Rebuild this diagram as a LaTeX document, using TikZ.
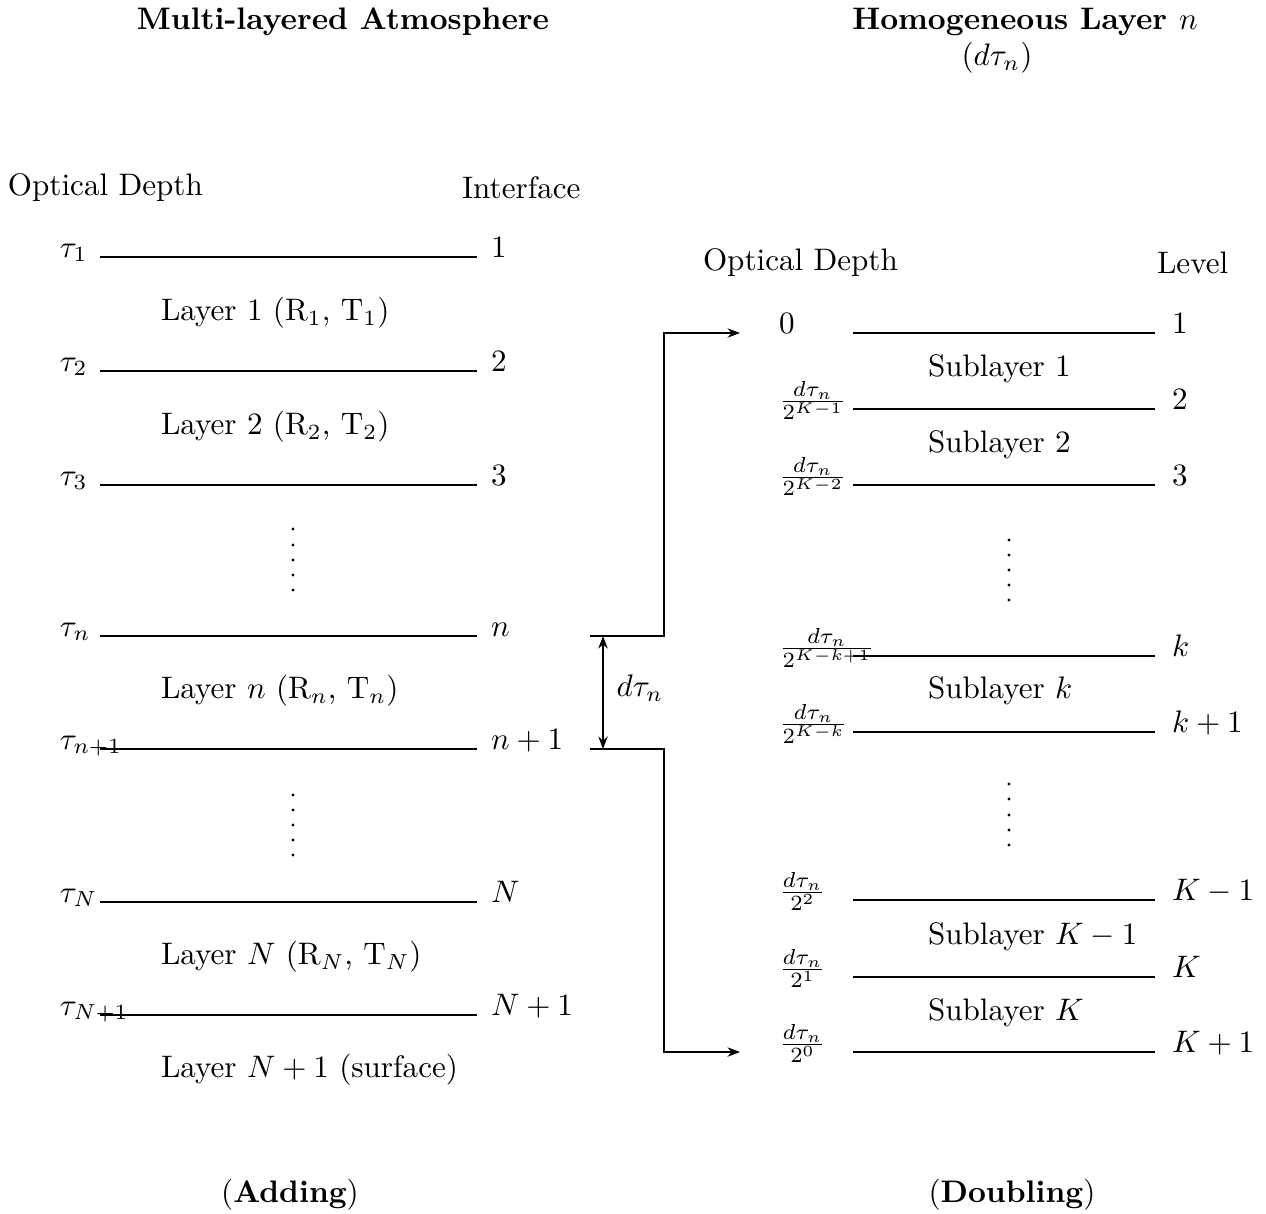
\documentclass[tikz,border=0pt]{standalone}
\usetikzlibrary{arrows.meta}
\begin{document}
\begin{tikzpicture}[x=0.3215pt,y=-0.3215pt,
  every node/.style={inner sep=0pt,outer sep=0pt},
  layerline/.style={line width=0.6pt},
  conn/.style={line width=0.6pt},
  tip/.style={-{Stealth[length=4pt,width=3pt]}},
  lbl/.style={anchor=base west},
  head/.style={font=\bfseries},
  dotmark/.style={fill=black}]
\useasboundingbox (0,0) rectangle (1266,1213);

% ---------- titles ----------
\node[head] (tadd) at (343,22) {Multi-layered Atmosphere};
\node[head] (tdbl) at (1025,22) {Homogeneous Layer $n$};
\node (tdbl2) at (997,58) {$(d\tau_n)$};
\node (adding) at (290,1195) {(\textbf{Adding})};
\node (doubling) at (1012,1195) {(\textbf{Doubling})};

% ---------- left column ----------
\node[anchor=west] (odL) at (8,188) {Optical Depth};
\node[anchor=west] (ifc) at (462,188) {Interface};

\foreach \nm/\yy/\tl/\rl in {i1/257/{$\tau_1$}/{1}, i2/371/{$\tau_2$}/{2}, i3/485/{$\tau_3$}/{3},
    in/636/{$\tau_n$}/{$n$}, inp/749/{$\tau_{n+1}$}/{$n+1$},
    iN/902/{$\tau_N$}/{$N$}, iNp/1015/{$\tau_{N+1}$}/{$N+1$}}{
  \coordinate (\nm a) at (100,\yy);
  \coordinate (\nm b) at (477,\yy);
  \node[lbl] (\nm t) at (60,\yy) {\tl};
  \node[lbl] (\nm r) at (491,\yy) {\rl};
  \draw[layerline] (\nm a) -- (\nm b);
}

\node[anchor=west] (L1) at (161,313) {Layer 1 (R$_1$, T$_1$)};
\node[anchor=west] (L2) at (161,427) {Layer 2 (R$_2$, T$_2$)};
\node[anchor=west] (Ln) at (161,691) {Layer $n$ (R$_n$, T$_n$)};
\node[anchor=west] (LN) at (161,957) {Layer $N$ (R$_N$, T$_N$)};
\node[anchor=west] (LNp) at (161,1070) {Layer $N+1$ (surface)};

\foreach \yy in {529,545,560,575,590,795,810,825,840,855}
  \fill[dotmark] (293,\yy) circle (1.6);

% ---------- right column ----------
\node[anchor=west] (odR) at (703,263) {Optical Depth};
\node[anchor=west] (lev) at (1157,263) {Level};

\foreach \nm/\yy/\tl/\rl in {s1/333/{$0$}/{1},
    s2/409/{$\frac{d\tau_n}{2^{K-1}}$}/{2},
    s3/485/{$\frac{d\tau_n}{2^{K-2}}$}/{3},
    sk/656/{$\frac{d\tau_n}{2^{K-k+1}}$}/{$k$},
    skp/732/{$\frac{d\tau_n}{2^{K-k}}$}/{$k+1$},
    sKm/900/{$\frac{d\tau_n}{2^{2}}$}/{$K-1$},
    sK/977/{$\frac{d\tau_n}{2^{1}}$}/{$K$},
    sKp/1052/{$\frac{d\tau_n}{2^{0}}$}/{$K+1$}}{
  \coordinate (\nm a) at (853,\yy);
  \coordinate (\nm b) at (1155,\yy);
  \node[lbl] (\nm t) at (779,\yy) {\tl};
  \node[lbl] (\nm r) at (1172,\yy) {\rl};
  \draw[layerline] (\nm a) -- (\nm b);
}

\node[anchor=west] (S1) at (928,369) {Sublayer 1};
\node[anchor=west] (S2) at (928,445) {Sublayer 2};
\node[anchor=west] (Sk) at (928,691) {Sublayer $k$};
\node[anchor=west] (SKm) at (928,937) {Sublayer $K-1$};
\node[anchor=west] (SK) at (928,1013) {Sublayer $K$};

\foreach \yy in {540,555,570,585,600,784,799,815,830,845}
  \fill[dotmark] (1009,\yy) circle (1.6);

% ---------- connectors ----------
\coordinate (ctop) at (590,636);
\coordinate (cbot) at (590,749);
\coordinate (ctopE) at (740,333);
\coordinate (cbotE) at (740,1052);
\coordinate (dA) at (603,636);
\coordinate (dB) at (603,749);
\draw[conn,tip] (ctop) -- (664,636) |- (ctopE);
\draw[conn,tip] (cbot) -- (664,749) |- (cbotE);
\draw[conn,{Stealth[length=4pt,width=3pt]}-{Stealth[length=4pt,width=3pt]}] (dA) -- (dB);
\node (dtau) at (640,688) {$d\tau_n$};
\end{tikzpicture}
\end{document}
